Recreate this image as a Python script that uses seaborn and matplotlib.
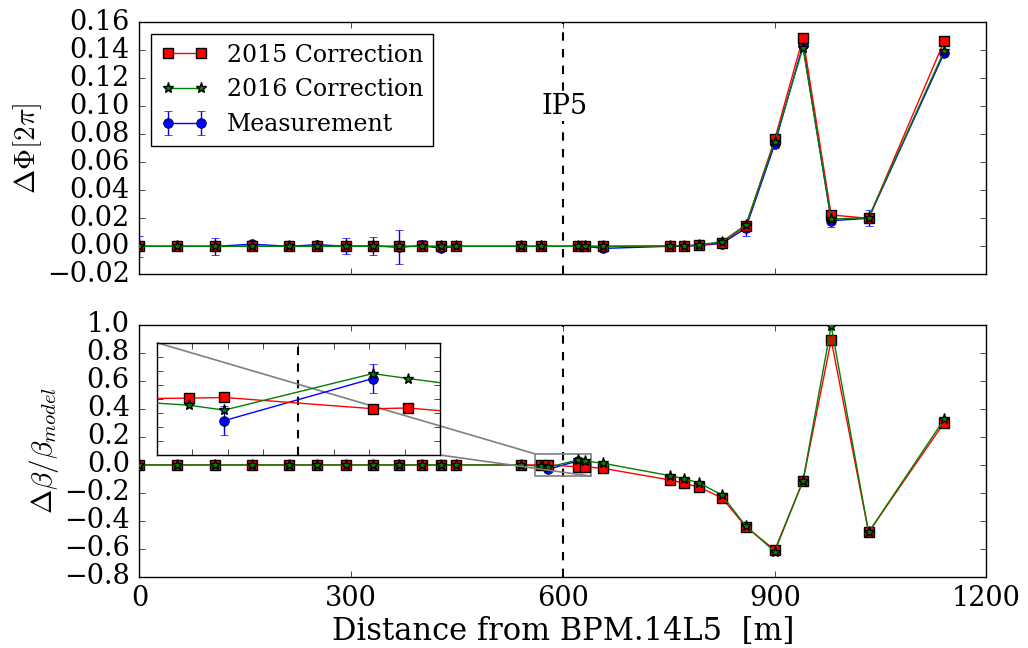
import matplotlib
matplotlib.use("Agg")
import matplotlib.pyplot as plt
import seaborn as sns
from mpl_toolkits.axes_grid1.inset_locator import mark_inset

# ---------------- data ----------------
s_phase = [0, 53, 107, 160, 212, 252, 292, 331, 368, 400, 427, 448, 541, 569,
           621, 631, 657, 751, 772, 793, 825, 859, 900, 940, 980, 1033, 1140]
phase_2015 = [0.0, 0.0, 0.0, 0.0, 0.0, 0.0, 0.0, 0.0, 0.0, 0.0, 0.0, 0.0, 0.0, 0.0,
              0.0, 0.0, 0.0, 0.0003, 0.0004, 0.0010, 0.0026, 0.0145, 0.0764, 0.1490,
              0.0224, 0.0200, 0.1464]
phase_2016 = [0.0, 0.0, 0.0, 0.0, 0.0, 0.0, 0.0, 0.0, 0.0, 0.0, 0.0, 0.0, 0.0, 0.0,
              0.0, 0.0, 0.0, 0.0003, 0.0004, 0.0010, 0.0033, 0.0152, 0.0747, 0.1419,
              0.0195, 0.0204, 0.1395]
phase_meas = [0.0, 0.0, 0.0, 0.0015, 0.0, 0.0012, 0.0, 0.0003, -0.0007, 0.0005, -0.0014,
              0.0, 0.0, 0.0, 0.0, 0.0, -0.0015, 0.0, 0.0, 0.0006, 0.0020, 0.0129, 0.0729,
              0.1438, 0.0183, 0.0200, 0.1379]
phase_err = [0.0077, 0.0010, 0.0062, 0.0010, 0.0010, 0.0010, 0.0056, 0.0062, 0.0120,
             0.0040, 0.0010, 0.0010, 0.0010, 0.0010, 0.0010, 0.0010, 0.0010, 0.0010,
             0.0010, 0.0010, 0.0015, 0.0054, 0.0024, 0.0020, 0.0042, 0.0058, 0.0010]

s_beta = [0, 53, 107, 160, 212, 252, 292, 331, 368, 400, 427, 448, 541, 569, 579,
          621, 631, 657, 751, 772, 793, 825, 859, 900, 940, 980, 1033, 1140]
beta_2015 = [0.0, 0.0, 0.0, 0.0, 0.0, 0.0, 0.0, 0.0, 0.0, 0.0, 0.0, 0.0, 0.0,
             0.001, 0.002, -0.014, -0.013, -0.024, -0.107, -0.131, -0.159, -0.234,
             -0.441, -0.607, -0.116, 0.893, -0.481, 0.302]
beta_2016 = [0.0, 0.0, 0.0, 0.0, 0.0, 0.0, 0.0, 0.0, 0.0, 0.0, 0.0, 0.0, 0.0,
             -0.009, -0.016, 0.036, 0.029, 0.012, -0.076, -0.098, -0.129, -0.214,
             -0.436, -0.619, -0.114, 0.993, -0.481, 0.326]
s_beta_meas = [579, 621]
beta_meas = [-0.031, 0.029]
beta_meas_err = [0.021, 0.021]

x_ticks = [0, 300, 600, 900, 1200]
ip_position = 600
labels = ["2015 Correction", "2016 Correction", "Measurement"]

# ---------------- style ----------------
plt.style.use("classic")
plt.rcParams["figure.facecolor"] = "white"
plt.rcParams["font.family"] = ["DejaVu Serif"]
plt.rcParams["mathtext.fontset"] = "cm"

fig, (ax1, ax2) = plt.subplots(2, 1, figsize=(10.28, 6.48), dpi=100, sharex=True)
fig.subplots_adjust(left=0.1357, right=0.9596, top=0.9656, bottom=0.1096, hspace=0.201)

MS = 7


def draw(ax, s, y2015, y2016, sm, ym, em, lab=True):
    h_meas = ax.errorbar(sm, ym, yerr=em, fmt="-o", color="blue", ecolor="blue",
                         mec="black", ms=MS, lw=1, elinewidth=1, capsize=3,
                         label=labels[2] if lab else None, zorder=2)
    sns.lineplot(x=s, y=y2015, ax=ax, color="red", marker="s", markersize=MS,
                 markeredgecolor="black", markeredgewidth=1, linewidth=1,
                 label=labels[0] if lab else None, legend=False, zorder=3)
    sns.lineplot(x=s, y=y2016, ax=ax, color="green", marker="*", markersize=MS + 1,
                 markeredgecolor="black", markeredgewidth=1, linewidth=1,
                 label=labels[1] if lab else None, legend=False, zorder=4)
    ax.axvline(ip_position, color="black", ls="--", lw=1.5, zorder=1)
    return h_meas


# ---- top: phase ----
draw(ax1, s_phase, phase_2015, phase_2016, s_phase, phase_meas, phase_err)
ax1.set_ylim(-0.02, 0.16)
ax1.set_yticks([-0.02, 0.0, 0.02, 0.04, 0.06, 0.08, 0.10, 0.12, 0.14, 0.16])
ax1.set_ylabel(r"$\Delta\Phi[2\pi]$", fontsize=21, labelpad=2)
ax1.text(603, 0.10, "IP5", fontsize=19.5, ha="center", va="center",
         bbox=dict(facecolor="white", edgecolor="none", pad=1))
handles, labs = ax1.get_legend_handles_labels()
order = [labs.index(l) for l in labels]
ax1.legend([handles[i] for i in order], [labs[i] for i in order], loc="upper left",
           fontsize=17, numpoints=2, frameon=True, fancybox=False)

# ---- bottom: beta beating ----
draw(ax2, s_beta, beta_2015, beta_2016, s_beta_meas, beta_meas, beta_meas_err, lab=False)
ax2.set_ylim(-0.8, 1.0)
ax2.set_yticks([-0.8, -0.6, -0.4, -0.2, 0.0, 0.2, 0.4, 0.6, 0.8, 1.0])
ax2.set_ylabel(r"$\Delta\beta/\beta_{model}$", fontsize=21, labelpad=2)
ax2.set_xlim(0, 1200)
ax2.set_xticks(x_ticks)
ax2.set_xlabel("Distance from BPM.14L5  [m]", fontsize=22, labelpad=3)

for ax in (ax1, ax2):
    ax.tick_params(axis="both", labelsize=19.5)
    ax.tick_params(axis="y", pad=7)
    ax.tick_params(axis="x", pad=6)
plt.setp(ax1.get_xticklabels(), visible=False)

# ---- inset ----
axins = fig.add_axes([0.1527, 0.2978, 0.2753, 0.1733])
draw(axins, s_beta, beta_2015, beta_2016, s_beta_meas, beta_meas, beta_meas_err, lab=False)
axins.set_xlim(560, 640)
axins.set_ylim(-0.08, 0.08)
axins.set_xticks(range(560, 641, 10))
axins.set_yticks([-0.08, -0.06, -0.04, -0.02, 0.0, 0.02, 0.04, 0.06, 0.08])
axins.set_xticklabels([])
axins.set_yticklabels([])
axins.set_xlabel("")
axins.set_ylabel("")
mark_inset(ax2, axins, loc1=2, loc2=4, fc="none", ec="0.5", lw=1.2)

fig.savefig("out.png", dpi=100)
